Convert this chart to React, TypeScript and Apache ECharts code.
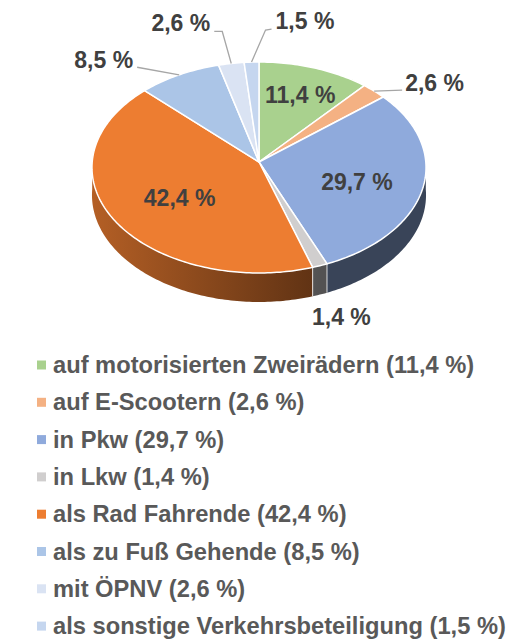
import React, { useEffect, useRef } from "react";
import * as echarts from "echarts";

// ---- data ----
const categories = [
  "auf motorisierten Zweirädern",
  "auf E-Scootern",
  "in Pkw",
  "in Lkw",
  "als Rad Fahrende",
  "als zu Fuß Gehende",
  "mit ÖPNV",
  "als sonstige Verkehrsbeteiligung",
];
const shares = [11.4, 2.6, 29.7, 1.4, 42.4, 8.5, 2.6, 1.5];
const colors = ["#A9D18E", "#F4B183", "#8FAADC", "#D0CECE", "#ED7D31", "#ABC5E7", "#DAE3F3", "#C5D6EF"];

// ---- label layout (offsets relative to the slice anchor) ----
type LabelLayout =
  | { mode: "inside"; r: number; dy: number }
  | { mode: "below"; dx: number; dy: number }
  | { mode: "outside"; line: number[][]; tdx: number; tdy: number; align: "left" | "right" };
const labelLayout: LabelLayout[] = [
  { mode: "inside", r: 0.73, dy: 2 },
  { mode: "outside", line: [[28, -1]], tdx: 3, tdy: -7.5, align: "left" },
  { mode: "inside", r: 0.6, dy: 5 },
  { mode: "below", dx: 21.5, dy: 22.5 },
  { mode: "inside", r: 0.55, dy: 5 },
  { mode: "outside", line: [[-42, -7.6]], tdx: -4, tdy: -7.5, align: "right" },
  { mode: "outside", line: [[-9, -32], [-17, -32]], tdx: -4, tdy: -8, align: "right" },
  { mode: "outside", line: [[14, -32], [20, -33]], tdx: 4, tdy: -8, align: "left" },
];

const FONT = '"Liberation Sans", Arial, Helvetica, sans-serif';
const fmt = (v: number) => v.toFixed(1).replace(".", ",") + " %";

// ---- 3D pie geometry (perspective-projected disc) ----
const CX = 259, CY = 162, A = 166.8, B = 105.2, K = 0.052, H = 27.5;
function project(u: number, v: number, drop = 0) {
  const d = 1 + K * v;
  return [CX + (A * u) / d, CY - (B * v) / d + drop / d];
}
function pt(theta: number, r = 1, drop = 0) {
  const t = (theta * Math.PI) / 180;
  return project(r * Math.sin(t), r * Math.cos(t), drop);
}
function shade(hex: string, f: number) {
  const n = parseInt(hex.slice(1), 16);
  const r = Math.round(((n >> 16) & 255) * f);
  const g = Math.round(((n >> 8) & 255) * f);
  const b = Math.round((n & 255) * f);
  return `rgb(${r},${g},${b})`;
}
const wallFactor = (x: number) => 0.4 + 0.36 * Math.max(0, Math.min(1, (CX + 60 - x) / (A + 60)));

export default function App() {
  const ref = useRef<HTMLDivElement>(null);
  useEffect(() => {
    document.body.style.margin = "0";
    if (!ref.current) return;
    const chart = echarts.init(ref.current, undefined, { renderer: "svg" });
    const total = shares.reduce((a, b) => a + b, 0);

    const series = categories.map((name, idx) => ({
      type: "custom",
      name,
      coordinateSystem: "none",
      itemStyle: { color: colors[idx] },
      data: [[shares[idx]]],
      renderItem: (params: any, api: any) => {
        const i = params.seriesIndex;
        let before = 0;
        for (let j = 0; j < i; j++) before += shares[j];
        const value = api.value(0);
        const a1 = (before / total) * 360;
        const a2 = ((before + value) / total) * 360;
        const col = colors[i];
        const children: any[] = [];

        // outer wall (front half)
        const w1 = Math.max(a1, 90), w2 = Math.min(a2, 270);
        if (w2 > w1) {
          const n = Math.max(2, Math.ceil(w2 - w1));
          const top: number[][] = [], bot: number[][] = [];
          for (let s = 0; s <= n; s++) {
            const t = w1 + ((w2 - w1) * s) / n;
            top.push(pt(t));
            bot.push(pt(t, 1, H));
          }
          const pts = top.concat(bot.reverse());
          const xs = pts.map((p) => p[0]);
          const minX = Math.min(...xs), maxX = Math.max(...xs);
          const stops: any[] = [{ offset: 0, color: shade(col, wallFactor(minX)) }];
          const knee = CX + 60;
          if (knee > minX && knee < maxX) stops.push({ offset: (knee - minX) / (maxX - minX), color: shade(col, 0.4) });
          stops.push({ offset: 1, color: shade(col, wallFactor(maxX)) });
          children.push({
            type: "polygon",
            z2: 1,
            shape: { points: pts },
            style: { fill: { type: "linear", x: minX, y: 0, x2: maxX, y2: 0, colorStops: stops, global: true } },
          });
          if (a1 > 90 && a1 < 270) {
            const p = pt(a1), q = pt(a1, 1, H);
            children.push({ type: "line", z2: 3, shape: { x1: p[0], y1: p[1], x2: q[0], y2: q[1] }, style: { stroke: "#ffffff", lineWidth: 1, opacity: 0.8 } });
          }
        }

        // top face
        const tpts: number[][] = [[CX, CY]];
        const m = Math.max(2, Math.ceil(a2 - a1));
        for (let s = 0; s <= m; s++) tpts.push(pt(a1 + ((a2 - a1) * s) / m));
        children.push({
          type: "polygon",
          z2: 10,
          shape: { points: tpts },
          style: { fill: col, stroke: "#ffffff", lineWidth: 1.5, lineJoin: "round" },
        });

        // label
        const mid = (a1 + a2) / 2;
        const lay = labelLayout[i];
        const textStyle = { text: fmt(value), fill: "#404040", fontSize: 23, fontWeight: "bold", fontFamily: FONT, verticalAlign: "middle" };
        if (lay.mode === "inside") {
          const p = pt(mid, lay.r);
          children.push({ type: "text", z2: 30, style: { ...textStyle, x: p[0], y: p[1] + lay.dy, align: "center" } });
        } else if (lay.mode === "below") {
          const p = pt(mid, 1, H);
          children.push({ type: "text", z2: 30, style: { ...textStyle, x: p[0] + lay.dx, y: p[1] + lay.dy, align: "center" } });
        } else {
          const p = pt(mid);
          const linePts = [p, ...lay.line.map((o) => [p[0] + o[0], p[1] + o[1]])];
          children.push({ type: "polyline", z2: 20, shape: { points: linePts }, style: { stroke: "#A6A6A6", lineWidth: 1.3, fill: null } });
          const last = linePts[linePts.length - 1];
          children.push({ type: "text", z2: 30, style: { ...textStyle, x: last[0] + lay.tdx, y: last[1] + lay.tdy, align: lay.align } });
        }
        return { type: "group", children };
      },
    }));

    chart.setOption({
      animation: false,
      legend: {
        orient: "vertical",
        left: 37,
        top: 353,
        height: 400,
        padding: 0,
        itemWidth: 9,
        itemHeight: 9,
        itemGap: 13.3,
        icon: "rect",
        selectedMode: false,
        data: categories,
        textStyle: { fontFamily: FONT, fontSize: 23.7, fontWeight: "bold", color: "#595959", padding: [0, 0, 0, 2] },
        formatter: (name: string) => `${name} (${fmt(shares[categories.indexOf(name)])})`,
      },
      series,
    });
    return () => chart.dispose();
  }, []);
  return <div ref={ref} style={{ width: 524, height: 639 }} />;
}
